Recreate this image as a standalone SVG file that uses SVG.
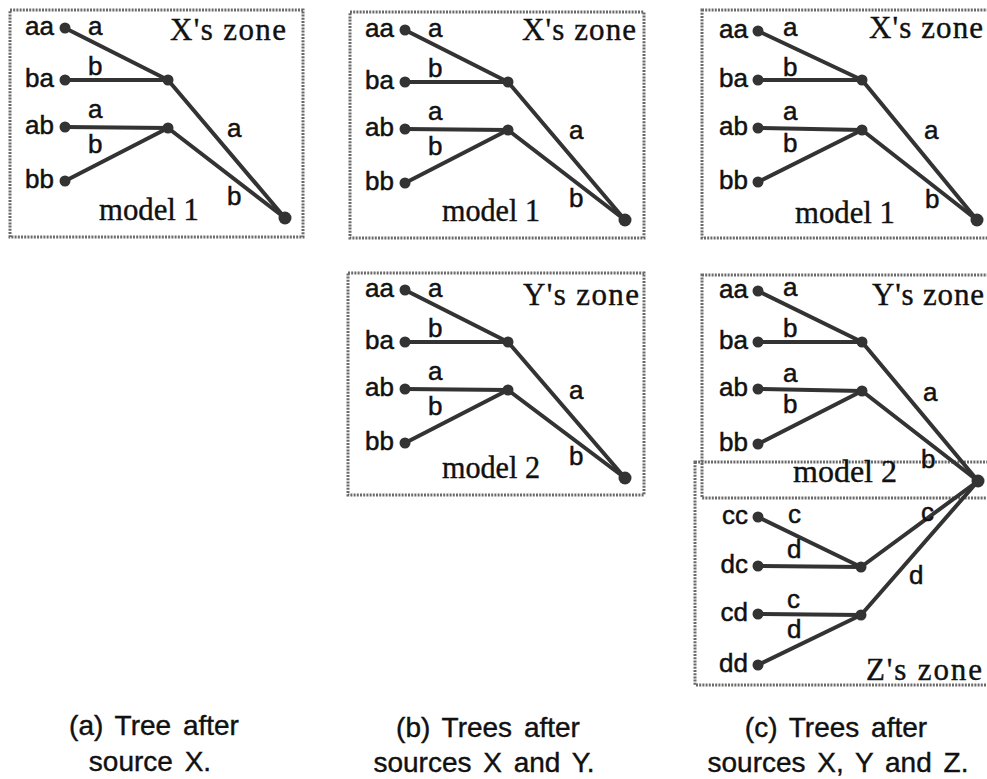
<svg xmlns="http://www.w3.org/2000/svg" width="987" height="779" viewBox="0 0 987 779">
<style>
.box{fill:none;stroke:#6a6a6a;stroke-width:3;stroke-dasharray:2 1.2}
.connectors line{stroke:#333;stroke-width:4;stroke-linecap:round}
.dot{fill:#333}
.s{font-family:"Liberation Sans",Arial,sans-serif;font-size:26px;fill:#111;stroke:#111;stroke-width:0.5}
.lf{text-anchor:end}
.r{font-family:"Liberation Serif","Times New Roman",serif;font-size:31px;fill:#111;stroke:#111;stroke-width:0.4}
.cap{font-family:"Liberation Sans",Arial,sans-serif;font-size:28px;fill:#111;stroke:#111;stroke-width:0.4;text-anchor:middle;word-spacing:4px}
</style>
<rect width="987" height="779" fill="#fff"/>

<!-- Panel A -->
<g id="panelA">
 <rect class="box" x="10" y="10" width="293" height="227"/>
 <g class="connectors">
  <line x1="65" y1="28" x2="168" y2="80"/>
  <line x1="65" y1="80" x2="168" y2="80"/>
  <line x1="65" y1="127" x2="168" y2="128"/>
  <line x1="65" y1="181" x2="168" y2="128"/>
  <line x1="168" y1="80" x2="285" y2="218"/>
  <line x1="168" y1="128" x2="285" y2="218"/>
 </g>
 <g class="s">
  <text x="88" y="35">a</text><text x="88" y="75">b</text><text x="88" y="118">a</text><text x="88" y="153">b</text><text x="227" y="137">a</text><text x="227" y="205">b</text>
 </g>
 <g id="A-aa"><circle class="dot" cx="65" cy="28" r="5.5"/><text class="s lf" x="54" y="35">aa</text></g>
 <g id="A-ba"><circle class="dot" cx="65" cy="80" r="5.5"/><text class="s lf" x="54" y="87">ba</text></g>
 <g id="A-ab"><circle class="dot" cx="65" cy="127" r="5.5"/><text class="s lf" x="54" y="134">ab</text></g>
 <g id="A-bb"><circle class="dot" cx="65" cy="181" r="5.5"/><text class="s lf" x="54" y="188">bb</text></g>
 <g id="A-n1"><circle class="dot" cx="168" cy="80" r="5.5"/></g>
 <g id="A-n2"><circle class="dot" cx="168" cy="128" r="5.5"/></g>
 <g id="A-root"><circle class="dot" cx="285" cy="218" r="6.5"/></g>
 <text class="r" x="170" y="40" textLength="116" lengthAdjust="spacing">X's zone</text>
 <text class="r" x="99" y="220" textLength="100" lengthAdjust="spacingAndGlyphs">model 1</text>
</g>

<!-- Panel B top -->
<g id="panelB1" transform="translate(340,2)">
 <rect class="box" x="10" y="10" width="294" height="226"/>
 <g class="connectors">
  <line x1="65" y1="28" x2="168" y2="80"/>
  <line x1="65" y1="80" x2="168" y2="80"/>
  <line x1="65" y1="127" x2="168" y2="128"/>
  <line x1="65" y1="181" x2="168" y2="128"/>
  <line x1="168" y1="80" x2="285" y2="218"/>
  <line x1="168" y1="128" x2="285" y2="218"/>
 </g>
 <g class="s">
  <text x="88" y="35">a</text><text x="88" y="75">b</text><text x="88" y="118">a</text><text x="88" y="153">b</text><text x="229" y="137">a</text><text x="229" y="205">b</text>
 </g>
 <g id="B1-aa"><circle class="dot" cx="65" cy="28" r="5.5"/><text class="s lf" x="54" y="35">aa</text></g>
 <g id="B1-ba"><circle class="dot" cx="65" cy="80" r="5.5"/><text class="s lf" x="54" y="87">ba</text></g>
 <g id="B1-ab"><circle class="dot" cx="65" cy="127" r="5.5"/><text class="s lf" x="54" y="134">ab</text></g>
 <g id="B1-bb"><circle class="dot" cx="65" cy="181" r="5.5"/><text class="s lf" x="54" y="188">bb</text></g>
 <g id="B1-n1"><circle class="dot" cx="168" cy="80" r="5.5"/></g>
 <g id="B1-n2"><circle class="dot" cx="168" cy="128" r="5.5"/></g>
 <g id="B1-root"><circle class="dot" cx="285" cy="218" r="6.5"/></g>
 <text class="r" x="182" y="38" textLength="114" lengthAdjust="spacing">X's zone</text>
 <text class="r" x="102" y="219" textLength="98" lengthAdjust="spacingAndGlyphs">model 1</text>
</g>

<!-- Panel B bottom -->
<g id="panelB2" transform="translate(340,262)">
 <rect class="box" x="8" y="11" width="296" height="222"/>
 <g class="connectors">
  <line x1="65" y1="28" x2="168" y2="80"/>
  <line x1="65" y1="80" x2="168" y2="80"/>
  <line x1="65" y1="127" x2="168" y2="128"/>
  <line x1="65" y1="181" x2="168" y2="128"/>
  <line x1="168" y1="80" x2="285" y2="216"/>
  <line x1="168" y1="128" x2="285" y2="216"/>
 </g>
 <g class="s">
  <text x="88" y="35">a</text><text x="88" y="75">b</text><text x="88" y="118">a</text><text x="88" y="153">b</text><text x="229" y="137">a</text><text x="229" y="203">b</text>
 </g>
 <g id="B2-aa"><circle class="dot" cx="65" cy="28" r="5.5"/><text class="s lf" x="54" y="35">aa</text></g>
 <g id="B2-ba"><circle class="dot" cx="65" cy="80" r="5.5"/><text class="s lf" x="54" y="87">ba</text></g>
 <g id="B2-ab"><circle class="dot" cx="65" cy="127" r="5.5"/><text class="s lf" x="54" y="134">ab</text></g>
 <g id="B2-bb"><circle class="dot" cx="65" cy="181" r="5.5"/><text class="s lf" x="54" y="188">bb</text></g>
 <g id="B2-n1"><circle class="dot" cx="168" cy="80" r="5.5"/></g>
 <g id="B2-n2"><circle class="dot" cx="168" cy="128" r="5.5"/></g>
 <g id="B2-root"><circle class="dot" cx="285" cy="216" r="6.5"/></g>
 <text class="r" x="183" y="43" textLength="116" lengthAdjust="spacing">Y's zone</text>
 <text class="r" x="102" y="216" textLength="98" lengthAdjust="spacingAndGlyphs">model 2</text>
</g>

<!-- Panel C top -->
<g id="panelC1" transform="translate(692,2)">
 <rect class="box" x="10" y="8" width="320" height="228"/>
 <g class="connectors">
  <line x1="66" y1="29" x2="170" y2="78"/>
  <line x1="66" y1="78" x2="170" y2="78"/>
  <line x1="66" y1="126" x2="170" y2="128"/>
  <line x1="66" y1="180" x2="170" y2="128"/>
  <line x1="170" y1="78" x2="285" y2="218"/>
  <line x1="170" y1="128" x2="285" y2="218"/>
 </g>
 <g class="s">
  <text x="91" y="34">a</text><text x="91" y="74">b</text><text x="91" y="118">a</text><text x="91" y="150">b</text><text x="232" y="137">a</text><text x="233" y="206">b</text>
 </g>
 <g id="C1-aa"><circle class="dot" cx="66" cy="29" r="5.5"/><text class="s lf" x="56" y="36">aa</text></g>
 <g id="C1-ba"><circle class="dot" cx="66" cy="78" r="5.5"/><text class="s lf" x="56" y="85">ba</text></g>
 <g id="C1-ab"><circle class="dot" cx="66" cy="126" r="5.5"/><text class="s lf" x="56" y="133">ab</text></g>
 <g id="C1-bb"><circle class="dot" cx="66" cy="180" r="5.5"/><text class="s lf" x="56" y="187">bb</text></g>
 <g id="C1-n1"><circle class="dot" cx="170" cy="78" r="5.5"/></g>
 <g id="C1-n2"><circle class="dot" cx="170" cy="128" r="5.5"/></g>
 <g id="C1-root"><circle class="dot" cx="285" cy="218" r="6.5"/></g>
 <text class="r" x="177" y="36" textLength="114" lengthAdjust="spacing">X's zone</text>
 <text class="r" x="103" y="221" textLength="100" lengthAdjust="spacingAndGlyphs">model 1</text>
</g>

<!-- Panel C: Y zone and Z zone -->
<g id="panelC2">
 <rect class="box" x="702" y="275" width="320" height="223"/>
 <rect class="box" x="695" y="462" width="330" height="223"/>
 <g class="connectors">
  <line x1="758" y1="291" x2="862" y2="342"/>
  <line x1="758" y1="342" x2="862" y2="342"/>
  <line x1="758" y1="389" x2="862" y2="391"/>
  <line x1="758" y1="444" x2="862" y2="391"/>
  <line x1="862" y1="342" x2="978" y2="481"/>
  <line x1="862" y1="391" x2="978" y2="481"/>
  <line x1="758" y1="517" x2="861" y2="567"/>
  <line x1="758" y1="566" x2="861" y2="567"/>
  <line x1="758" y1="614" x2="861" y2="615"/>
  <line x1="758" y1="665" x2="861" y2="615"/>
  <line x1="861" y1="567" x2="978" y2="481"/>
  <line x1="861" y1="615" x2="978" y2="481"/>
 </g>
 <g class="s">
  <text x="783" y="296">a</text><text x="783" y="337">b</text><text x="783" y="382">a</text><text x="783" y="413">b</text><text x="923" y="401">a</text><text x="921" y="468">b</text>
  <text x="788" y="523">c</text><text x="787" y="558">d</text><text x="787" y="608">c</text><text x="787" y="638">d</text><text x="921" y="521">c</text><text x="909" y="584">d</text>
 </g>
 <g id="C2-aa"><circle class="dot" cx="758" cy="291" r="5.5"/><text class="s lf" x="748" y="298">aa</text></g>
 <g id="C2-ba"><circle class="dot" cx="758" cy="342" r="5.5"/><text class="s lf" x="748" y="349">ba</text></g>
 <g id="C2-ab"><circle class="dot" cx="758" cy="389" r="5.5"/><text class="s lf" x="748" y="396">ab</text></g>
 <g id="C2-bb"><circle class="dot" cx="758" cy="444" r="5.5"/><text class="s lf" x="748" y="451">bb</text></g>
 <g id="C2-n1"><circle class="dot" cx="862" cy="342" r="5.5"/></g>
 <g id="C2-n2"><circle class="dot" cx="862" cy="391" r="5.5"/></g>
 <g id="C2-root"><circle class="dot" cx="978" cy="481" r="6.5"/></g>
 <g id="C2-cc"><circle class="dot" cx="758" cy="517" r="5.5"/><text class="s lf" x="748" y="524">cc</text></g>
 <g id="C2-dc"><circle class="dot" cx="758" cy="566" r="5.5"/><text class="s lf" x="748" y="573">dc</text></g>
 <g id="C2-cd"><circle class="dot" cx="758" cy="614" r="5.5"/><text class="s lf" x="748" y="621">cd</text></g>
 <g id="C2-dd"><circle class="dot" cx="758" cy="665" r="5.5"/><text class="s lf" x="748" y="672">dd</text></g>
 <g id="C2-n3"><circle class="dot" cx="861" cy="567" r="5.5"/></g>
 <g id="C2-n4"><circle class="dot" cx="861" cy="615" r="5.5"/></g>
 <text class="r" x="872" y="305" textLength="112" lengthAdjust="spacing">Y's zone</text>
 <text class="r" x="793" y="482" textLength="104" lengthAdjust="spacingAndGlyphs">model 2</text>
 <text class="r" x="866" y="680" textLength="116" lengthAdjust="spacing">Z's zone</text>
</g>

<!-- Captions -->
<g id="captions">
 <text class="cap" x="154" y="735">(a) Tree after</text>
 <text class="cap" x="150" y="771">source X.</text>
 <text class="cap" x="488" y="737">(b) Trees after</text>
 <text class="cap" x="484" y="772">sources X and Y.</text>
 <text class="cap" x="836" y="737">(c) Trees after</text>
 <text class="cap" x="838" y="772">sources X, Y and Z.</text>
</g>
</svg>
